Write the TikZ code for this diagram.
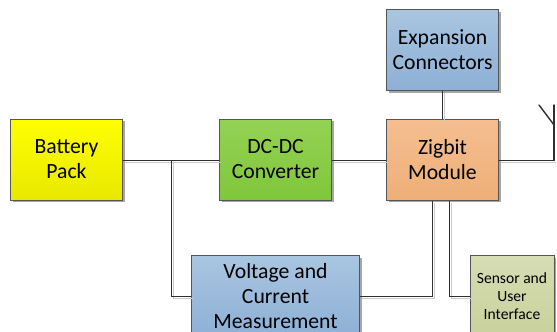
\documentclass[tikz,border=0pt]{standalone}
\usepackage{fontspec}
\setmainfont{Carlito}
\usetikzlibrary{shadows}
\definecolor{bluetop}{HTML}{A9C5E1}
\definecolor{bluebot}{HTML}{8DB0D5}
\definecolor{yeltop}{HTML}{FFFF00}
\definecolor{yelbot}{HTML}{E8E800}
\definecolor{grntop}{HTML}{94D254}
\definecolor{grnbot}{HTML}{80C63B}
\definecolor{orgtop}{HTML}{F5BE90}
\definecolor{orgbot}{HTML}{EEAF78}
\definecolor{sentop}{HTML}{D6DDB4}
\definecolor{senbot}{HTML}{C8D19C}
\definecolor{edgegrey}{HTML}{555555}
\definecolor{wiregrey}{HTML}{303030}
\tikzset{
  blockbox/.style={draw=edgegrey,line width=1pt,inner sep=0pt,align=center,
    text=black,font=\fontsize{21.7}{25}\selectfont,
    drop shadow={shadow xshift=2pt,shadow yshift=-2pt,fill=black!35,opacity=1}},
  wide/.style={blockbox,minimum width=112pt,minimum height=81pt},
  bluefill/.style={top color=bluetop,bottom color=bluebot},
  yelfill/.style={top color=yeltop,bottom color=yelbot},
  grnfill/.style={top color=grntop,bottom color=grnbot},
  orgfill/.style={top color=orgtop,bottom color=orgbot},
  senfill/.style={top color=sentop,bottom color=senbot},
  wire/.style={draw=wiregrey,line width=1.4pt,
    preaction={draw=black!20,line width=1.4pt,transform canvas={xshift=2pt,yshift=-2pt}}},
  aerial/.style={draw=wiregrey,line width=1.4pt,line cap=round}
}
\begin{document}
\begin{tikzpicture}[x=1pt,y=-1pt]
\useasboundingbox (0,0) rectangle (557,332);
\clip (0,0) rectangle (557,332);
\node[wide,yelfill] (bat) at (66.5,159.5) {Battery\\Pack};
\node[wide,grnfill] (dc) at (275.5,159.5) {DC-DC\\Converter};
\node[wide,orgfill] (zig) at (442.5,159.5) {Zigbit\\Module};
\node[wide,bluefill] (exp) at (442.5,50) {Expansion\\Connectors};
\node[blockbox,bluefill,minimum width=168pt,minimum height=82pt] (vcm) at (275.5,296.5) {Voltage and\\Current\\Measurement};
\node[blockbox,senfill,font=\fontsize{15.6}{18}\selectfont,minimum width=84pt,minimum height=82pt] (sui) at (512,296.5) {Sensor and\\User\\Interface};
\coordinate (tee) at (171.5,160.5);
\coordinate (zoa) at (432.5,200.5);
\coordinate (zob) at (449.5,200.5);
\coordinate (mast) at (554,160.5);
\coordinate (tip) at (554,105);
\coordinate (feed) at (554,125);
\coordinate (arm) at (539,105);
\draw[wire] ([yshift=-1pt]bat.east) -- ([yshift=-1pt]dc.west);
\draw[wire] ([yshift=-1pt]dc.east) -- ([yshift=-1pt]zig.west);
\draw[wire] (tee) |- (vcm.west);
\draw[wire] (zoa) |- (vcm.east);
\draw[wire] (zob) |- (sui.west);
\draw[wire] (exp.south) -- (zig.north);
\draw[wire] ([yshift=-1pt]zig.east) -- (mast);
\draw[aerial] (mast) -- (tip);
\draw[aerial] (arm) -- (feed);
\end{tikzpicture}
\end{document}
